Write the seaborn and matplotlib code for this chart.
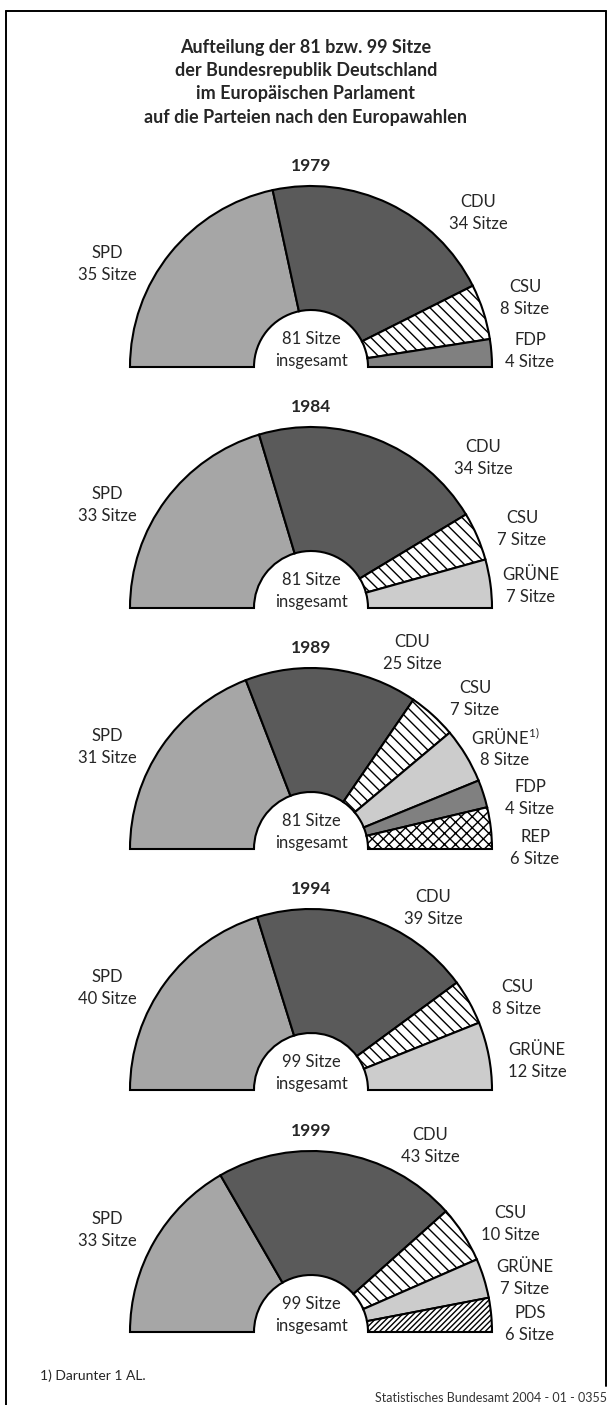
# Sitzverteilung der BRD im Europaeischen Parlament, Halbkreis-Diagramme

import numpy as np
import matplotlib.pyplot as plt
import seaborn as sns
sns.set_style("white")

plt.rcParams['font.family'] = ['Lato', 'DejaVu Sans']
plt.rcParams['hatch.linewidth'] = 1.0

# data
years = ["1979", "1984", "1989", "1994", "1999"]
totals = [81, 81, 81, 99, 99]

parties_1979 = ["SPD", "CDU", "CSU", "FDP"]
seats_1979 = [35, 34, 8, 4]
parties_1984 = ["SPD", "CDU", "CSU", "GRÜNE"]
seats_1984 = [33, 34, 7, 7]
parties_1989 = ["SPD", "CDU", "CSU", "GRÜNE", "FDP", "REP"]
seats_1989 = [31, 25, 7, 8, 4, 6]
parties_1994 = ["SPD", "CDU", "CSU", "GRÜNE"]
seats_1994 = [40, 39, 8, 12]
parties_1999 = ["SPD", "CDU", "CSU", "GRÜNE", "PDS"]
seats_1999 = [33, 43, 10, 7, 6]

all_parties = [parties_1979, parties_1984, parties_1989, parties_1994, parties_1999]
all_seats = [seats_1979, seats_1984, seats_1989, seats_1994, seats_1999]

# styles
fill = {"SPD": "#a6a6a6", "CDU": "#5a5a5a", "CSU": "white", "FDP": "#808080",
        "GRÜNE": "#cccccc", "REP": "white", "PDS": "white"}
hatch = {"CSU": "\\\\\\", "REP": "xxx", "PDS": "//////"}

# layout (pixels from top-left)
W, H = 613, 1405
cx = 311
r_out, r_in = 181, 57
baselines = [367, 608, 849, 1090, 1332]
# label positions (x, y of first line) per chart, same order as parties
label_pos = [
    [(107, 253), (478, 202), (525, 287), (530, 340)],
    [(107, 494), (483, 447), (522, 518), (531, 575)],
    [(107, 736), (412, 642), (475, 688), (505, 738), (530, 787), (535, 837)],
    [(107, 977), (433, 897), (517, 987), (537, 1050)],
    [(107, 1219), (430, 1135), (510, 1213), (525, 1267), (530, 1313)],
]


def Y(y):
    return H - y


fig = plt.figure(figsize=(W / 100, H / 100), dpi=100)
ax = fig.add_axes([0, 0, 1, 1])

fs = 12
for i, year in enumerate(years):
    parties = all_parties[i]
    seats = all_seats[i]
    base = baselines[i]
    wedges, _ = ax.pie(seats + [totals[i]], radius=r_out, center=(cx, Y(base)),
                       startangle=180, counterclock=False,
                       colors=[fill[p] for p in parties] + ["white"],
                       wedgeprops=dict(width=r_out - r_in, edgecolor="black",
                                       linewidth=1.5),
                       frame=True)
    wedges[-1].set_visible(False)
    for w, p in zip(wedges, parties):
        if p in hatch:
            w.set_hatch(hatch[p])

    ax.text(cx, Y(base - 201), year, ha="center", va="center",
            fontsize=12.5, fontweight="bold")
    ax.text(cx, Y(base - 28), f"{totals[i]} Sitze", ha="center", va="center", fontsize=fs)
    ax.text(cx, Y(base - 6), "insgesamt", ha="center", va="center", fontsize=fs)

    for p, s, (x, y) in zip(parties, seats, label_pos[i]):
        name = p
        if year == "1989" and p == "GRÜNE":
            name = "GRÜNE$^{\\mathregular{1)}}$"
        ax.text(x, Y(y), name, ha="center", va="center", fontsize=fs)
        ax.text(x, Y(y + 22), f"{s} Sitze", ha="center", va="center", fontsize=fs)

title = ["Aufteilung der 81 bzw. 99 Sitze",
         "der Bundesrepublik Deutschland",
         "im Europäischen Parlament",
         "auf die Parteien nach den Europawahlen"]
for k, line in enumerate(title):
    ax.text(306, Y(47 + k * 23.5), line, ha="center", va="center",
            fontsize=13, fontweight="bold")

ax.text(40, Y(1376), "1) Darunter 1 AL.", ha="left", va="center", fontsize=10)
ax.text(607, Y(1398), "Statistisches Bundesamt 2004 - 01 - 0355", ha="right",
        va="center", fontsize=9, color="#333333")

# frame
ax.plot([5.5, 5.5], [Y(H + 5), Y(10.5)], color="black", lw=1.4)
ax.plot([5.5, 606], [Y(10.5), Y(10.5)], color="black", lw=1.4)
ax.plot([606, 606], [Y(10.5), Y(1386)], color="black", lw=1.4)

ax.set_xlim(0, W)
ax.set_ylim(0, H)
ax.set_aspect("auto")
ax.axis("off")

fig.savefig("out.png", dpi=100, facecolor="white")
